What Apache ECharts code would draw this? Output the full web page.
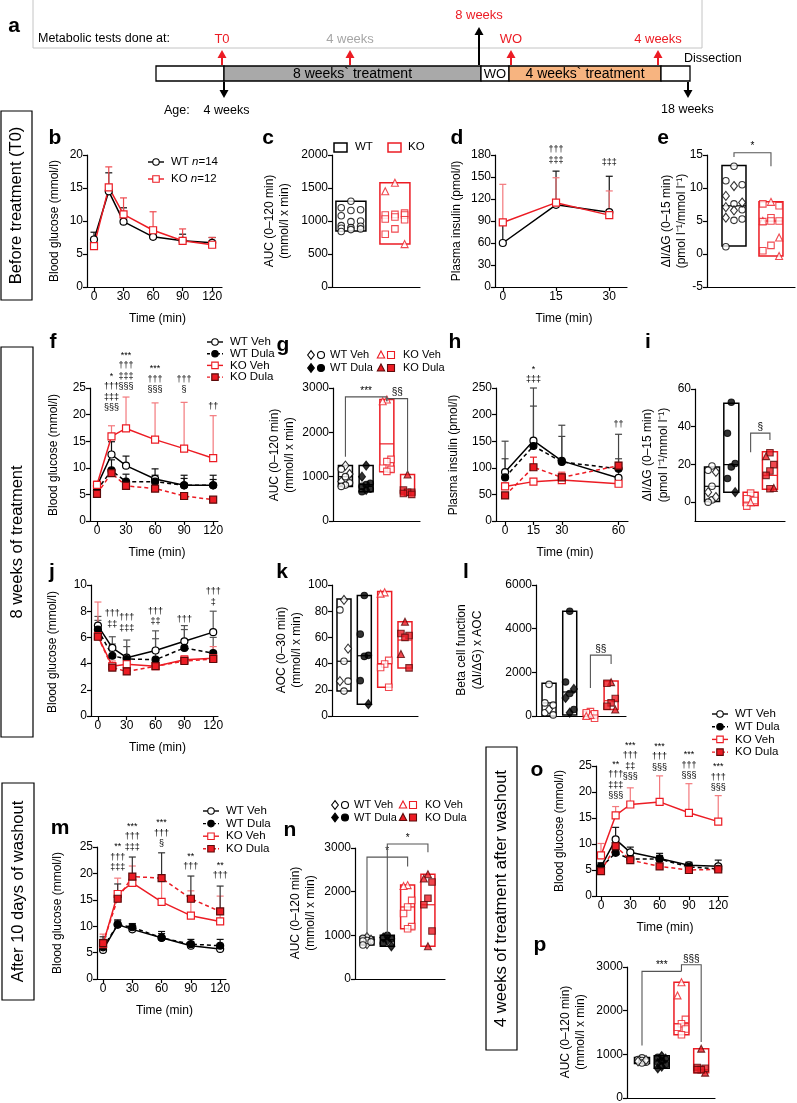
<!DOCTYPE html>
<html><head><meta charset="utf-8">
<script src="https://cdn.jsdelivr.net/npm/echarts@6/dist/echarts.min.js"></script>
<style>html,body{margin:0;padding:0;background:#fff}#c{width:797px;height:1103px}</style>
</head><body><div id="c"></div>
<script>
const FONT='"Liberation Sans", Arial, Helvetica, sans-serif';
const RED='#ec1c24', RED_ERR='#f3797d', RED_DARK='#5c0a0a';

// ================= DATA =================
const tGTT=[0,15,30,60,90,120];
const glucTicks=[0,30,60,90,120];
// (b) GTT before treatment
const bWT=[7.2,14.5,9.9,7.6,7.0,6.7], bWTerr=[8.3,17.3,12.0,7.8,8.0,7.5];
const bKO=[6.2,15.1,11.0,8.6,7.0,6.4], bKOerr=[6.6,18.2,13.5,11.4,8.8,7.5];
// (c) AUC before treatment
const cWT=[1300,1200,1170,1160,1080,1000,990,930,920,900,890,880,870,840], cWTshape='cccccccccccccc';
const cKO=[1580,1450,1120,1100,1090,1090,1060,1030,1020,880,800,650], cKOshape='ttssssssssst';
const cBox=[[850,1300,null],[650,1580,null]];
// (d) insulin before treatment
const tIns30=[0,15,30];
const dWT=[60,112,102], dWTerr=[88,158,151];
const dKO=[88,115,98], dKOerr=[140,149,131];
const dAnn=[[15,166,'†††\n‡‡‡'],[30,162,'‡‡‡']];
// (e) dI/dG before treatment
const eWT=[13.3,11.1,10.5,10.3,8.8,7.8,7.6,7.1,6.7,6.6,5.5,5.3,5.1,1.1], eWTshape='cccdddcdcddccc';
const eKO=[7.9,7.6,7.3,5.5,5.0,5.0,5.0,4.9,2.5,1.3,0.5,-0.3], eKOshape='tssstssstsst';
const eBox=[[1.2,13.4,7.3],[-0.3,7.9,5.0]];
const eBr=[[1,2,15.35,14.7,13.3,'*']];
// (f) GTT 8 weeks
const fWTVeh=[6.6,12.5,10.4,7.9,6.7,6.7], fWTVehErr=[7.2,14.9,12.2,9.8,8.6,8.6];
const fWTDula=[5.8,9.5,7.4,7.4,6.7,6.7], fWTDulaErr=[6.5,11.5,8.8,8.6,8.0,7.8];
const fKOVeh=[6.8,15.9,17.4,15.3,13.6,11.8], fKOVehErr=[7.5,17.9,23.3,22.2,22.3,19.8];
const fKODula=[5.1,9.0,6.6,6.1,4.7,4.0], fKODulaErr=[5.8,9.8,7.2,6.6,5.3,4.4];
const fAnn=[[15,20.3,'*\n†††\n‡‡‡\n§§§'],[30,24.2,'***\n†††\n‡‡‡\n§§§'],[60,23.7,'***\n†††\n§§§'],[90,23.7,'†††\n§'],[120,20.5,'††']];
// (g) AUC 8 weeks
const gWTVeh=[1250,1170,1060,1000,890,860,810,780], gWTVehShape='dcdcdccc';
const gWTDula=[1250,1000,850,820,780,720,700,660], gWTDulaShape='ddccccdc';
const gKOVeh=[2740,2700,1390,1340,1190,1165,1120], gKOVehShape='ttsssss';
const gKODula=[1050,700,650,650,620,600], gKODulaShape='tsssss';
const gBox=[[780,1250,1000],[660,1250,820],[1110,2740,1740],[600,1050,650]];
const gBr=[[1,3,2800,1450,2700,'***'],[3,4,2760,2700,1090,'§§']];
// (h) insulin 8 weeks
const tIns60=[0,15,30,60];
const hWTVeh=[92,151,113,81], hWTVehErr=[150,250,180,163];
const hWTDula=[82,141,111,98], hWTDulaErr=[117,216,159,117];
const hKOVeh=[65,74,77,70], hKOVehErr=[72,80,92,76];
const hKODula=[48,101,82,104], hKODulaErr=[52,120,90,110];
const hAnn=[[15,256,'*\n‡‡‡'],[60,171,'††']];
// (i) dI/dG 8 weeks
const iWTVeh=[19.2,16.9,16,8.4,5.3,2.7,1.2,0], iWTVehShape='ccdcddcc';
const iWTDula=[53,36.5,20.5,18.7,12.5,5.3], iWTDulaShape='cccccd';
const iKOVeh=[4.8,1.8,0.9,0,-2.1], iKOVehShape='sssts';
const iKODula=[26.2,24.4,19.9,16.5,14.2,7.5,7.1], iKODulaShape='stsssts';
const iBox=[[0.4,18.7,8.4],[5.3,52.5,19.9],[-1.8,5.3,null],[6.8,26.7,14.2]];
const iBr=[[3,4,36.6,26.5,33,'§']];
// (j) ITT 8 weeks
const jWTVeh=[6.9,5.2,4.45,5.0,5.7,6.4], jWTVehErr=[7.6,6.05,5.8,6.5,6.9,8.0];
const jWTDula=[6.6,4.6,4.35,4.3,5.2,4.8], jWTDulaErr=[7.3,5.5,5.3,5.9,6.6,6.0];
const jKOVeh=[6.1,3.8,3.95,3.8,4.3,4.4], jKOVehErr=[8.7,4.2,4.3,4.1,4.6,5.3];
const jKODula=[6.05,3.7,3.4,3.8,4.2,4.35], jKODulaErr=[6.4,3.9,3.6,4.0,4.5,4.6];
const jAnn=[[15,6.6,'†††\n‡‡'],[30,6.3,'†††\n‡‡‡'],[60,6.8,'†††\n‡‡'],[90,7.0,'†††'],[120,8.3,'†††\n‡']];
// (k) AOC
const kWTVeh=[88.6,81,51.4,41.8,26.6,26.6,19], kWTVehShape='dcdcdcc';
const kWTDula=[92,62.5,46.3,45.5,27,9], kWTDulaShape='cccccd';
const kKOVeh=[94.4,93.4,42.5,39.7,37,22], kKOVehShape='ttssss';
const kKODula=[72,63,61.5,60,47.3,36.7], kKODulaShape='tsssts';
const kBox=[[19,89.4,41.8],[9,92,46],[22,95,40],[36.7,72,58]];
// (l) beta cell function
const lWTVeh=[1450,600,500,300,150,50], lWTVehShape='cccdcc';
const lWTDula=[4800,1560,1240,1030,830,300,150], lWTDulaShape='ccdcdcd';
const lKOVeh=[200,150,100,50,0,-100], lKOVehShape='ssstts';
const lKODula=[1550,1500,800,600,450,300], lKODulaShape='tsssst';
const lBox=[[0,1500,600],[50,4800,1100],[-120,230,null],[300,1600,700]];
const lBr=[[3,4,2790,1280,2380,'§§']];
// (m) GTT after washout
const mWTVeh=[5.5,10.3,9.4,7.8,6.3,5.7], mWTVehErr=[6.5,11.2,10.4,8.6,7.0,6.4];
const mWTDula=[6.0,10.3,9.8,7.8,6.6,6.3], mWTDulaErr=[7.5,11.0,10.5,9.0,7.5,7.5];
const mKOVeh=[6.6,16.1,18.2,14.6,12.0,10.9], mKOVehErr=[8.5,19.1,21.4,18.5,16.7,15.7];
const mKODula=[6.8,15.2,19.4,19.1,15.2,12.8], mKODulaErr=[8.0,18.0,23.1,23.9,19.5,17.6];
const mAnn=[[15,20.1,'**\n†††\n‡‡‡'],[30,24.0,'***\n†††\n‡‡‡'],[60,24.6,'***\n†††\n§'],[90,20.3,'**\n†††'],[120,18.6,'**\n†††']];
// (n) AUC after washout
const nWTVeh=[960,930,900,880,870,850,800,780], nWTVehShape='dcdcccdc';
const nWTDula=[1000,950,920,880,820,750], nWTDulaShape='cdcdcd';
const nKOVeh=[2150,2130,1800,1650,1500,1200,1150], nKOVehShape='ttsssss';
const nKODula=[2400,2300,2220,1850,1700,1100,750], nKODulaShape='ttsssst';
const nBox=[[780,960,870],[750,1000,900],[1150,2150,1650],[750,2400,1700]];
const nBr=[[1,3,2790,1000,2575,'*'],[2,4,3090,1050,2900,'*']];
// (o) GTT 4 weeks after washout
const oWTVeh=[5.6,10.9,8.4,7.2,5.9,5.7], oWTVehErr=[6.4,13.2,9.4,8.2,6.5,6.9];
const oWTDula=[5.5,8.3,7.1,7.1,5.6,5.2], oWTDulaErr=[6.2,9.0,7.8,7.8,6.3,6.0];
const oKOVeh=[7.8,15.5,17.6,18.1,16.0,14.3], oKOVehErr=[10.1,17.2,20.8,23.1,21.6,19.3];
const oKODula=[4.8,9.6,6.9,5.7,5.0,5.1], oKODulaErr=[5.2,10.2,7.3,6.0,5.3,5.4];
const oAnn=[[15,18.3,'**\n†††\n‡‡‡\n§§§'],[30,21.9,'***\n†††\n‡‡\n§§§'],[60,23.7,'***\n†††\n§§§'],[90,22.1,'***\n†††\n§§§'],[120,19.8,'***\n†††\n§§§']];
// (p) AUC 4 weeks after washout
const pWTVeh=[920,880,870,860,840,820,800], pWTVehShape='ccdcdcc';
const pWTDula=[960,930,900,850,800,770,720,680], pWTDulaShape='dcdcdcdd';
const pKOVeh=[2650,2350,1800,1700,1620,1580,1450], pKOVehShape='ttsssss';
const pKODula=[1130,700,680,650,650,580], pKODulaShape='tsssst';
const pBox=[[790,930,null],[680,970,850],[1450,2650,1700],[580,1130,650]];
const pBr=[[1,3,2900,1200,2900,'***'],[3,4,3050,2900,1280,'§§§']];

// ================= BUILD =================
const grids=[],xAxis=[],yAxis=[],series=[],G=[];
const STY={
  wtveh:{line:'#000',dash:false,shape:'c',fill:'#fff',border:'#000',err:'#111'},
  wtdula:{line:'#000',dash:true,shape:'c',fill:'#000',border:'#000',err:'#111'},
  koveh:{line:RED,dash:false,shape:'s',fill:'#fff',border:RED,err:RED_ERR},
  kodula:{line:RED,dash:true,shape:'s',fill:RED,border:RED_DARK,err:RED}
};
const SYM={c:'circle',d:'diamond',t:'triangle',s:'rect'};
function ax(min,max,ticks){
  const a={type:'value',min,max,splitLine:{show:false},
    axisLine:{show:true,onZero:false,lineStyle:{color:'#000',width:1.2}},
    axisTick:{show:!!ticks,length:4,lineStyle:{color:'#000',width:1.2}},
    axisLabel:{show:!!ticks,color:'#000',fontSize:12,fontFamily:FONT,margin:4,formatter:v=>String(v)}};
  if(ticks){a.axisTick.customValues=ticks;a.axisLabel.customValues=ticks;}
  return a;
}
function addGrid(r,x,y){
  const gi=grids.length;
  grids.push({left:r[0],top:r[1],width:r[2]-r[0],height:r[3]-r[1],containLabel:false,outerBoundsMode:'none'});
  xAxis.push(Object.assign({gridIndex:gi},ax(x[0],x[1],x[2])));
  yAxis.push(Object.assign({gridIndex:gi},ax(y[0],y[1],y[2])));
  return gi;
}
function T(x,y,text,style,el){
  G.push(Object.assign({type:'text',x,y,silent:true,style:Object.assign({text,fill:'#000',fontSize:12,fontFamily:FONT,align:'center',verticalAlign:'middle',textAlign:'center',textVerticalAlign:'middle'},style||{})},el||{}));
}
function sym(shape,cx,cy,size,fill,stroke){
  const r=size/2;let el;
  if(shape==='c') el={type:'circle',shape:{cx,cy,r}};
  else if(shape==='s') el={type:'rect',shape:{x:cx-r,y:cy-r,width:size,height:size}};
  else if(shape==='d') el={type:'polygon',shape:{points:[[cx,cy-r*1.25],[cx+r*0.95,cy],[cx,cy+r*1.25],[cx-r*0.95,cy]]}};
  else el={type:'polygon',shape:{points:[[cx,cy-r*1.15],[cx+r*1.05,cy+r*0.85],[cx-r*1.05,cy+r*0.85]]}};
  el.style={fill,stroke,lineWidth:1.1};el.silent=true;G.push(el);
}
function errSer(gi,xs,ys,ups,color){
  return {type:'custom',xAxisIndex:gi,yAxisIndex:gi,silent:true,animation:false,z:1,clip:false,
    data:xs.map((x,i)=>[x,ys[i]]),
    renderItem:(p,api)=>{const i=p.dataIndex;const a=api.coord([xs[i],ys[i]]),b=api.coord([xs[i],ups[i]]);
      return {type:'group',children:[
        {type:'line',shape:{x1:a[0],y1:a[1],x2:b[0],y2:b[1]},style:{stroke:color,lineWidth:1.2}},
        {type:'line',shape:{x1:b[0]-3.5,y1:b[1],x2:b[0]+3.5,y2:b[1]},style:{stroke:color,lineWidth:1.2}}]};}};
}
function addLines(gi,xs,groups){
  groups.forEach(g=>{
    const s=STY[g.sty];
    if(g.err) series.push(errSer(gi,xs,g.y,g.err,g.errColor||s.err));
  });
  groups.forEach(g=>{
    const s=STY[g.sty];
    series.push({type:'line',xAxisIndex:gi,yAxisIndex:gi,silent:true,animation:false,z:3,
      data:xs.map((x,i)=>[x,g.y[i]]),symbol:SYM[s.shape],symbolSize:7,showSymbol:true,
      lineStyle:{color:s.line,width:1.5,type:s.dash?[4,3]:'solid'},
      itemStyle:{color:s.fill,borderColor:s.border,borderWidth:1.2}});
  });
}
function addAnn(gi,anns){
  series.push({type:'custom',xAxisIndex:gi,yAxisIndex:gi,silent:true,animation:false,z:5,clip:false,
    data:anns.map(a=>[a[0],a[1]]),
    renderItem:(p,api)=>{const a=anns[p.dataIndex];const c=api.coord([a[0],a[1]]);
      return {type:'text',x:c[0],y:c[1],style:{text:a[2],fontSize:9,lineHeight:10.5,fontFamily:FONT,fill:'#000',align:'center',verticalAlign:'bottom',textAlign:'center',textVerticalAlign:'bottom'}};}});
}
function addBoxes(gi,boxes,colors,pxW){
  series.push({type:'custom',xAxisIndex:gi,yAxisIndex:gi,silent:true,animation:false,z:2,clip:false,
    data:boxes.map((b,i)=>[i+1,b[1]]),
    renderItem:(p,api)=>{const i=p.dataIndex,b=boxes[i];const lo=api.coord([i+1,b[0]]),hi=api.coord([i+1,b[1]]);
      const ch=[{type:'rect',shape:{x:lo[0]-pxW/2,y:hi[1],width:pxW,height:lo[1]-hi[1]},style:{fill:'none',stroke:colors[i],lineWidth:1.5}}];
      if(b[2]!=null){const m=api.coord([i+1,b[2]]);ch.push({type:'line',shape:{x1:lo[0]-pxW/2,y1:m[1],x2:lo[0]+pxW/2,y2:m[1]},style:{stroke:colors[i],lineWidth:1.2}});}
      return {type:'group',children:ch};}});
}
function addPoints(gi,xc,vals,shapes,grp,spread){
  const offs=[0,-1,1];const s=STY[grp];const by={};
  vals.forEach((v,i)=>{const sh=shapes[i];(by[sh]=by[sh]||[]).push([xc+offs[i%3]*spread,v]);});
  Object.keys(by).forEach(sh=>{
    series.push({type:'scatter',xAxisIndex:gi,yAxisIndex:gi,silent:true,animation:false,z:4,clip:false,
      data:by[sh],symbol:SYM[sh],symbolSize:sh==='d'?[7,9]:(sh==='t'?7:6.5),
      itemStyle:{color:s.fill,borderColor:s.border,borderWidth:1.1}});
  });
}
function addBrackets(gi,brs){
  series.push({type:'custom',xAxisIndex:gi,yAxisIndex:gi,silent:true,animation:false,z:5,clip:false,
    data:brs.map(b=>[b[0],b[2]]),
    renderItem:(p,api)=>{const b=brs[p.dataIndex];
      const p1=api.coord([b[0],b[3]]),p2=api.coord([b[0],b[2]]),p3=api.coord([b[1],b[2]]),p4=api.coord([b[1],b[4]]);
      return {type:'group',children:[
        {type:'polyline',shape:{points:[p1,p2,p3,p4]},style:{stroke:'#555',lineWidth:1.1,fill:null}},
        {type:'text',x:(p2[0]+p3[0])/2,y:p2[1]-1,style:{text:b[5],fontSize:10,fontFamily:FONT,fill:'#000',align:'center',verticalAlign:'bottom',textAlign:'center',textVerticalAlign:'bottom'}}]};}});
}
function boxPanel(gi,groups,boxes,spread,pxW){
  const colors=groups.map(g=>g[2].indexOf('ko')===0?RED:'#000');
  addBoxes(gi,boxes,colors,pxW);
  groups.forEach((g,i)=>addPoints(gi,i+1,g[0],g[1],g[2],spread));
}
function lineLegend(x,y,dy,items){
  items.forEach((it,i)=>{const s=STY[it[0]],yy=y+i*dy;
    G.push({type:'line',silent:true,shape:{x1:x,y1:yy,x2:x+16,y2:yy},style:{stroke:s.line,lineWidth:1.4,lineDash:s.dash?[3,2]:null}});
    sym(s.shape,x+8,yy,6.5,s.fill,s.border);
    T(x+23,yy,it[1],{fontSize:11.5,align:'left',textAlign:'left',rich:{i:{fontStyle:'italic',fontSize:11.5,fontFamily:FONT}}});
  });
}
function shapeLegend(x,y,dy,kox){
  const rows=[[['d','c'],'wtveh','WT Veh',['t','s'],'koveh','KO Veh'],[['d','c'],'wtdula','WT Dula',['t','s'],'kodula','KO Dula']];
  rows.forEach((r,i)=>{const yy=y+i*dy;
    r[0].forEach((sh,k)=>sym(sh,x+3+k*10,yy,7,STY[r[1]].fill,STY[r[1]].border));
    T(x+22,yy,r[2],{fontSize:11,align:'left',textAlign:'left'});
    r[3].forEach((sh,k)=>sym(sh,kox+3+k*10,yy,7,STY[r[4]].fill,STY[r[4]].border));
    T(kox+25,yy,r[5],{fontSize:11,align:'left',textAlign:'left'});
  });
}
function yTitle(x,yc,text){T(x,yc,text,{fontSize:12,lineHeight:15},{rotation:Math.PI/2});}
function letter(x,y,t){T(x,y,t,{fontSize:21,fontWeight:'bold'});}
function timeLbl(r){T((r[0]+r[2])/2+3,r[3]+32,'Time (min)');}
function sideBox(x1,y1,x2,y2,text){
  G.push({type:'rect',silent:true,shape:{x:x1,y:y1,width:x2-x1,height:y2-y1},style:{fill:'#fff',stroke:'#000',lineWidth:1.2}});
  T((x1+x2)/2,(y1+y2)/2,text,{fontSize:16.5},{rotation:Math.PI/2});
}
function arrow(x,y1,y2,color){
  const d=y2<y1?1:-1;
  G.push({type:'line',silent:true,shape:{x1:x,y1:y1,x2:x,y2:y2+d*6},style:{stroke:color,lineWidth:2}});
  G.push({type:'polygon',silent:true,shape:{points:[[x,y2],[x-4.5,y2+d*8],[x+4.5,y2+d*8]]},style:{fill:color}});
}

// ---------- panel a (schematic) ----------
G.push({type:'rect',silent:true,shape:{x:33,y:-2,width:669,height:50},style:{fill:'#fff',stroke:'#c4c4c4',lineWidth:1}});
letter(14,26,'a');
T(38,39,'Metabolic tests done at:',{fontSize:12.5,align:'left',textAlign:'left'});
const tlSegs=[[68,'#fff',''],[257,'#a9a9a9','8 weeks` treatment'],[28,'#fff','WO'],[152,'#f7b480','4 weeks` treatment'],[29,'#fff','']];
let sx=156;
tlSegs.forEach(s=>{G.push({type:'rect',silent:true,shape:{x:sx,y:66,width:s[0],height:15},style:{fill:s[1],stroke:'#000',lineWidth:1.3}});
  if(s[2]) T(sx+s[0]/2,74,s[2],{fontSize:s[2]==='WO'?13:14});sx+=s[0];});
const tlMarks=[[222,'T0',RED],[350,'4 weeks','#a6a6a6'],[511,'WO',RED],[658,'4 weeks',RED]];
tlMarks.forEach(m=>{arrow(m[0],65,50,RED);T(m[0],39,m[1],{fontSize:13,fill:m[2]});});
arrow(479,65,27,'#000');T(479,15,'8 weeks',{fontSize:13,fill:RED});
arrow(224,82,98,'#000');arrow(688,82,98,'#000');
T(684,59,'Dissection',{fontSize:12.5,align:'left',textAlign:'left'});
T(164,111,'Age:    4 weeks',{fontSize:12.5,align:'left',textAlign:'left'});
T(661,110,'18 weeks',{fontSize:12.5,align:'left',textAlign:'left'});

// side label boxes
sideBox(1,111,32,300,'Before treatment (T0)');
sideBox(1,347,33,737,'8 weeks of treatment');
sideBox(2,783,34,1000,'After 10 days of washout');
sideBox(486,747,517,1050,'4 weeks of treatment after washout');

// ---------- row 1 ----------
let r,gi;
r=[87,155,222,287];gi=addGrid(r,[-7.1,130,glucTicks],[0,20,[0,5,10,15,20]]);
addLines(gi,tGTT,[{y:bWT,err:bWTerr,sty:'wtveh'},{y:bKO,err:bKOerr,sty:'koveh',errColor:'#ee4a4f'}]);
letter(55,138,'b');yTitle(55,221,'Blood glucose (mmol/l)');timeLbl(r);
lineLegend(148,162,17,[['wtveh','WT {i|n}=14'],['koveh','KO {i|n}=12']]);

r=[332,155,420,287];gi=addGrid(r,[0.57,2.57,null],[0,2000,[0,500,1000,1500,2000]]);
boxPanel(gi,[[cWT,cWTshape,'wtveh'],[cKO,cKOshape,'koveh']],cBox,0.22,30);
letter(268,138,'c');yTitle(270,221,'AUC (0–120 min)');yTitle(285,221,'(mmol/l x min)');
G.push({type:'rect',silent:true,shape:{x:334,y:143,width:13,height:9},style:{fill:'#fff',stroke:'#000',lineWidth:1.5}});
T(355,147,'WT',{fontSize:11.5,align:'left',textAlign:'left'});
G.push({type:'rect',silent:true,shape:{x:388,y:143,width:13,height:9},style:{fill:'#fff',stroke:RED,lineWidth:1.5}});
T(408,147,'KO',{fontSize:11.5,align:'left',textAlign:'left'});

r=[495,155,627,287];gi=addGrid(r,[-2.2,35,tIns30],[0,180,[0,30,60,90,120,150,180]]);
addLines(gi,tIns30,[{y:dWT,err:dWTerr,sty:'wtveh'},{y:dKO,err:dKOerr,sty:'koveh'}]);
addAnn(gi,dAnn);
letter(457,138,'d');yTitle(457,221,'Plasma insulin (pmol/l)');timeLbl(r);

r=[707,155,795,287];gi=addGrid(r,[0.27,2.65,null],[-5,15,[-5,0,5,10,15]]);
boxPanel(gi,[[eWT,eWTshape,'wtveh'],[eKO,eKOshape,'koveh']],eBox,0.22,24);
addBrackets(gi,eBr);
letter(663,138,'e');yTitle(667,221,'ΔI/ΔG (0–15 min)');yTitle(682,221,'(pmol l⁻¹/mmol l⁻¹)');

// ---------- row 2 ----------
r=[90,388,218,521];gi=addGrid(r,[-7.2,125,glucTicks],[0,25,[0,5,10,15,20,25]]);
addLines(gi,tGTT,[{y:fWTVeh,err:fWTVehErr,sty:'wtveh'},{y:fWTDula,err:fWTDulaErr,sty:'wtdula'},{y:fKOVeh,err:fKOVehErr,sty:'koveh'},{y:fKODula,err:fKODulaErr,sty:'kodula'}]);
addAnn(gi,fAnn);
letter(53,342,'f');yTitle(54,455,'Blood glucose (mmol/l)');timeLbl(r);
lineLegend(207,342,11.7,[['wtveh','WT Veh'],['wtdula','WT Dula'],['koveh','KO Veh'],['kodula','KO Dula']]);

r=[333,388,420,521];gi=addGrid(r,[0.4,4.6,null],[0,3000,[0,1000,2000,3000]]);
boxPanel(gi,[[gWTVeh,gWTVehShape,'wtveh'],[gWTDula,gWTDulaShape,'wtdula'],[gKOVeh,gKOVehShape,'koveh'],[gKODula,gKODulaShape,'kodula']],gBox,0.2,14);
addBrackets(gi,gBr);
letter(283,345,'g');yTitle(275,455,'AUC (0–120 min)');yTitle(290,455,'(mmol/l x min)');
shapeLegend(308,355,13,378);

r=[496,388,628,521];gi=addGrid(r,[-4.8,65,tIns60],[0,250,[0,50,100,150,200,250]]);
addLines(gi,tIns60,[{y:hWTVeh,err:hWTVehErr,sty:'wtveh',errColor:'#444'},{y:hWTDula,err:hWTDulaErr,sty:'wtdula',errColor:'#444'},{y:hKOVeh,err:hKOVehErr,sty:'koveh'},{y:hKODula,err:hKODulaErr,sty:'kodula'}]);
addAnn(gi,hAnn);
letter(455,342,'h');yTitle(454,455,'Plasma insulin (pmol/l)');timeLbl(r);

r=[695,389,785,521];gi=addGrid(r,[0.12,4.78,null],[-10,60,[0,20,40,60]]);
boxPanel(gi,[[iWTVeh,iWTVehShape,'wtveh'],[iWTDula,iWTDulaShape,'wtdula'],[iKOVeh,iKOVehShape,'koveh'],[iKODula,iKODulaShape,'kodula']],iBox,0.2,15);
addBrackets(gi,iBr);
letter(648,342,'i');yTitle(648,455,'ΔI/ΔG (0–15 min)');yTitle(664,455,'(pmol l⁻¹/mmol l⁻¹)');

// ---------- row 3 ----------
r=[91,585,218,716];gi=addGrid(r,[-7.2,125,glucTicks],[0,10,[0,2,4,6,8,10]]);
addLines(gi,tGTT,[{y:jWTVeh,err:jWTVehErr,sty:'wtveh',errColor:'#555'},{y:jWTDula,err:jWTDulaErr,sty:'wtdula',errColor:'#555'},{y:jKOVeh,err:jKOVehErr,sty:'koveh'},{y:jKODula,err:jKODulaErr,sty:'kodula'}]);
addAnn(gi,jAnn);
letter(52,572,'j');yTitle(53,652,'Blood glucose (mmol/l)');timeLbl(r);

r=[332,585,418,716];gi=addGrid(r,[0.41,4.64,null],[0,100,[0,20,40,60,80,100]]);
boxPanel(gi,[[kWTVeh,kWTVehShape,'wtveh'],[kWTDula,kWTDulaShape,'wtdula'],[kKOVeh,kKOVehShape,'koveh'],[kKODula,kKODulaShape,'kodula']],kBox,0.2,14);
letter(282,572,'k');yTitle(282,650,'AOC (0–30 min)');yTitle(297,650,'(mmol/l x min)');

r=[536,585,626,716];gi=addGrid(r,[0.37,4.72,null],[0,6000,[0,2000,4000,6000]]);
boxPanel(gi,[[lWTVeh,lWTVehShape,'wtveh'],[lWTDula,lWTDulaShape,'wtdula'],[lKOVeh,lKOVehShape,'koveh'],[lKODula,lKODulaShape,'kodula']],lBox,0.2,14);
addBrackets(gi,lBr);
letter(466,572,'l');yTitle(462,650,'Beta cell function');yTitle(478,650,'(ΔI/ΔG) x AOC');

// ---------- row 4 ----------
r=[97,847,226,979];gi=addGrid(r,[-6.2,126,glucTicks],[0,25,[0,5,10,15,20,25]]);
addLines(gi,tGTT,[{y:mWTVeh,err:mWTVehErr,sty:'wtveh'},{y:mWTDula,err:mWTDulaErr,sty:'wtdula'},{y:mKOVeh,err:mKOVehErr,sty:'koveh'},{y:mKODula,err:mKODulaErr,sty:'kodula',errColor:'#333'}]);
addAnn(gi,mAnn);
letter(60,828,'m');yTitle(58,913,'Blood glucose (mmol/l)');timeLbl(r);
lineLegend(203,811,12.6,[['wtveh','WT Veh'],['wtdula','WT Dula'],['koveh','KO Veh'],['kodula','KO Dula']]);

r=[355,848,445,979];gi=addGrid(r,[0.41,4.84,null],[0,3000,[0,1000,2000,3000]]);
boxPanel(gi,[[nWTVeh,nWTVehShape,'wtveh'],[nWTDula,nWTDulaShape,'wtdula'],[nKOVeh,nKOVehShape,'koveh'],[nKODula,nKODulaShape,'kodula']],nBox,0.2,14);
addBrackets(gi,nBr);
letter(290,830,'n');yTitle(296,913,'AUC (0–120 min)');yTitle(311,913,'(mmol/l x min)');
shapeLegend(332,805,12.5,400);

r=[596,766,728,896];gi=addGrid(r,[-5.1,130,glucTicks],[0,25,[0,5,10,15,20,25]]);
addLines(gi,tGTT,[{y:oWTVeh,err:oWTVehErr,sty:'wtveh'},{y:oWTDula,err:oWTDulaErr,sty:'wtdula'},{y:oKOVeh,err:oKOVehErr,sty:'koveh'},{y:oKODula,err:oKODulaErr,sty:'kodula'}]);
addAnn(gi,oAnn);
letter(537,770,'o');yTitle(560,831,'Blood glucose (mmol/l)');timeLbl(r);
lineLegend(712,714,12.7,[['wtveh','WT Veh'],['wtdula','WT Dula'],['koveh','KO Veh'],['kodula','KO Dula']]);

r=[627,967,715,1098];gi=addGrid(r,[0.24,4.7,null],[0,3000,[0,1000,2000,3000]]);
boxPanel(gi,[[pWTVeh,pWTVehShape,'wtveh'],[pWTDula,pWTDulaShape,'wtdula'],[pKOVeh,pKOVehShape,'koveh'],[pKODula,pKODulaShape,'kodula']],pBox,0.2,15);
addBrackets(gi,pBr);
letter(540,945,'p');yTitle(566,1032,'AUC (0–120 min)');yTitle(581,1032,'(mmol/l x min)');

const chart=echarts.init(document.getElementById('c'),null,{renderer:'canvas',width:797,height:1103});
chart.setOption({backgroundColor:'#fff',animation:false,grid:grids,xAxis,yAxis,series,graphic:{elements:G}});
</script></body></html>
